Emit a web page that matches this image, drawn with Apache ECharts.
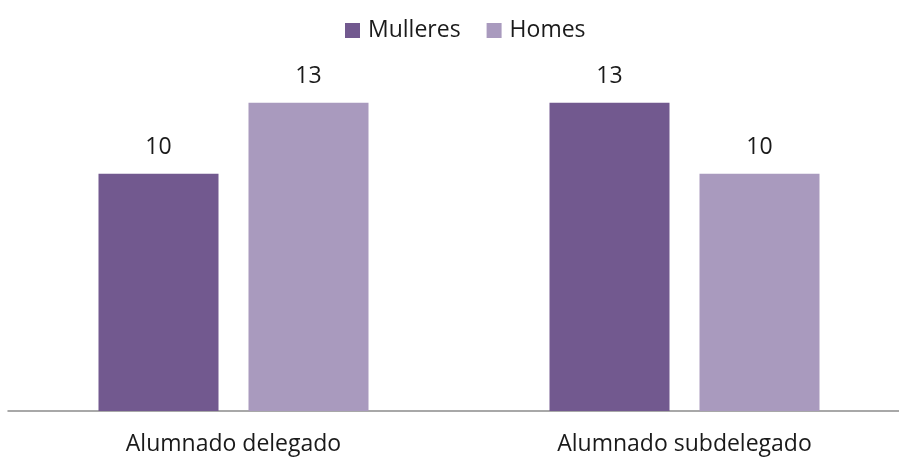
<!DOCTYPE html>
<html>
<head>
<meta charset="utf-8">
<script src="https://cdn.jsdelivr.net/npm/echarts@6/dist/echarts.min.js"></script>
<style>
  html, body { margin: 0; padding: 0; background: #fff; overflow: hidden; }
  #chart { width: 910px; height: 461px; }
</style>
</head>
<body>
<div id="chart"></div>
<script>
var categories = ["Alumnado delegado", "Alumnado subdelegado"];
var mulleres = [10, 13];
var homes = [13, 10];

var font = "'Open Sans', sans-serif";

var label = {
  show: true,
  position: "top",
  distance: 15,
  color: "#1a1a1a",
  fontSize: 23,
  fontFamily: font,
};

var chart = echarts.init(document.getElementById("chart"));
var option = {
  animation: false,
  legend: {
    data: ["Mulleres", "Homes"],
    top: 14,
    left: 340,
    itemWidth: 15,
    itemHeight: 15,
    itemGap: 26,
    icon: "rect",
    textStyle: {
      fontSize: 23,
      fontFamily: font,
      color: "#1a1a1a",
      padding: [0, 0, 0, 3],
    },
  },
  grid: {
    left: 8,
    right: 0,
    top: 79,
    bottom: 50,
    containLabel: false,
  },
  xAxis: {
    type: "category",
    data: categories,
    axisLine: { lineStyle: { color: "#8c8c8c", width: 1.5 } },
    axisTick: { show: false },
    axisLabel: {
      margin: 22,
      fontSize: 23,
      fontFamily: font,
      color: "#1a1a1a",
    },
  },
  yAxis: {
    type: "value",
    min: 0,
    max: 14,
    show: false,
    splitLine: { show: false },
  },
  series: [
    {
      name: "Mulleres",
      type: "bar",
      data: mulleres,
      barWidth: 120,
      barGap: "25%",
      itemStyle: { color: "#72598f" },
      label: label,
    },
    {
      name: "Homes",
      type: "bar",
      data: homes,
      barWidth: 120,
      itemStyle: { color: "#a99abe" },
      label: label,
    },
  ],
};
chart.setOption(option);
</script>
</body>
</html>
